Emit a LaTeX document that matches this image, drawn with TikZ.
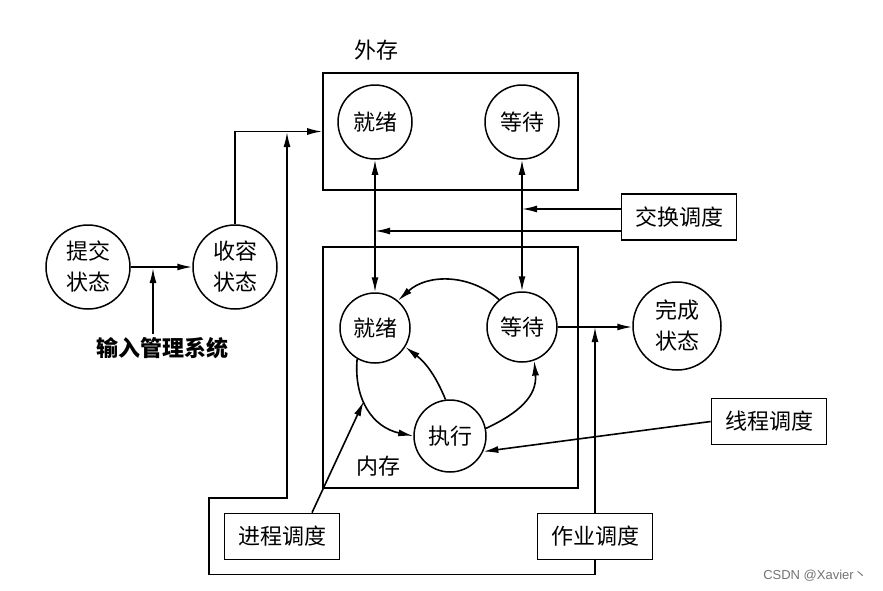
\documentclass[tikz,border=0pt]{standalone}
\usepackage{fontspec}
\newfontfamily\cjk{Noto Sans CJK SC}
\newfontfamily\wmfont{Liberation Sans}
\usetikzlibrary{arrows.meta}

\begin{document}
\begin{tikzpicture}[x=1pt,y=1pt,
    state/.style={draw, circle, line width=1.5pt, minimum size=74pt, inner sep=0pt,
      align=center, font=\cjk\fontsize{22}{31}\selectfont},
    bigstate/.style={state, minimum size=84pt},
    sched/.style={draw, line width=1.7pt, minimum width=115pt, minimum height=46pt,
      inner sep=0pt, font=\cjk\fontsize{22}{25}\selectfont},
    store/.style={draw, line width=1.7pt, inner sep=0pt},
    link/.style={line width=1.6pt, -{Latex[length=15pt,width=7pt]}},
    twoway/.style={line width=1.6pt, {Latex[length=15pt,width=7pt]}-{Latex[length=15pt,width=7pt]}}]
    \useasboundingbox (0,0) rectangle (883,-590);
    % storage areas
    \node[store, minimum width=255pt, minimum height=117pt] (outer) at (450.5,-131.5) {};
    \node[store, minimum width=255pt, minimum height=241pt] (inner) at (450.5,-367.5) {};
    \node[font=\cjk\fontsize{22}{25}\selectfont] (outerlbl) at (376,-50) {外存};
    \node[font=\cjk\fontsize{22}{25}\selectfont] (innerlbl) at (378,-466) {内存};
    % states
    \node[bigstate] (submit) at (88,-267) {提交\\状态};
    \node[bigstate] (hold) at (235,-267) {收容\\状态};
    \node[bigstate, minimum size=88pt] (done) at (677,-326) {完成\\状态};
    \node[state] (readyE) at (375,-122) {就绪};
    \node[state] (waitE) at (522,-122) {等待};
    \node[state, minimum size=70pt] (readyI) at (375,-328) {就绪};
    \node[state, minimum size=70pt] (waitI) at (522,-327) {等待};
    \node[state, minimum size=72pt] (run) at (450,-436) {执行};
    % schedulers
    \node[sched] (swap) at (679,-217) {交换调度};
    \node[sched] (thread) at (769,-421.5) {线程调度};
    \node[sched] (proc) at (282,-536.5) {进程调度};
    \node[sched] (job) at (595,-536.5) {作业调度};
    \node[font=\cjk\bfseries\fontsize{22}{25}\selectfont] (input) at (162,-348) {输入管理系统};
    \node[font=\wmfont\fontsize{13}{15}\selectfont, text=black!55, inner sep=0pt] (mark) at (815,-576)
        {CSDN @Xavier{\cjk 丶}};
    % job entry
    \draw[link] (submit) -- (hold);
    \draw[link] (input.north -| 153,0) -- (153,-268);
    \draw[link] (hold.north) |- (outer.west);
    \draw[link] (job.south) -- ++(0,-14) -| (209,-498) -| (287,-132);
    % swapping
    \draw[twoway] (readyE.south) -- (readyI.north);
    \draw[twoway] (waitE.south) -- (waitI.north);
    \draw[link] ([yshift=8pt]swap.west) -- ([yshift=8pt]swap.west -| waitE);
    \draw[link] ([yshift=-14pt]swap.west) -- ([yshift=-14pt]swap.west -| readyE);
    % inside memory
    \draw[link] (waitI.130) to[bend right=42] (readyI.50);
    \draw[link] (run.97) to[bend right=15] (readyI.-32);
    \draw[link] (readyI.-120) to[out=-95, in=168, looseness=1.1] coordinate[pos=0.4] (hit) (run.180);
    \draw[link] (run.12) to[out=25, in=-85, looseness=1.1] (waitI.-70);
    \draw[link] (thread.west) -- (run.-25);
    \draw[link] ([xshift=30pt]proc.north) -- (hit);
    % leaving
    \draw[link] (waitI.east) -- (waitI.east -| done.west);
    \draw[link] (job.north) -- (job.north |- waitI.east);
\end{tikzpicture}
\end{document}
